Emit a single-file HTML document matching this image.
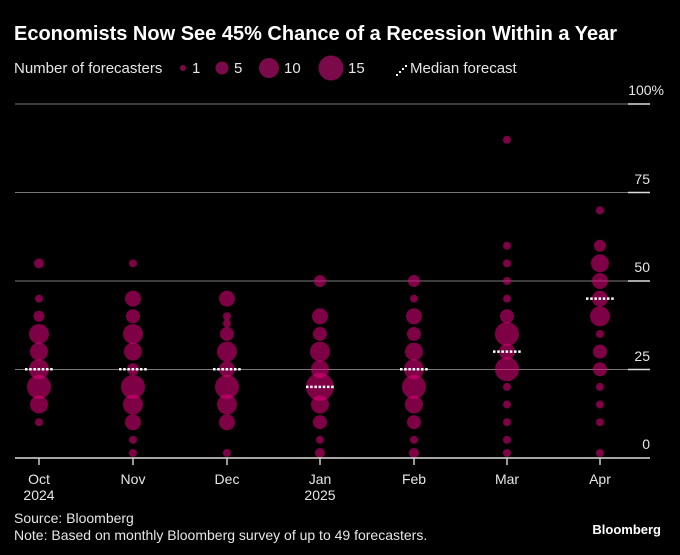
<!DOCTYPE html>
<html><head><meta charset="utf-8"><style>
html,body{margin:0;padding:0;background:#000;}
svg{display:block;font-family:"Liberation Sans",Arial,sans-serif;}
</style></head><body>
<svg width="680" height="555" viewBox="0 0 680 555" xmlns="http://www.w3.org/2000/svg">
<rect width="680" height="555" fill="#000"/>
<text x="14" y="40" fill="#fff" font-size="20" font-weight="bold">Economists Now See 45% Chance of a Recession Within a Year</text>
<g fill="#e6e6e6" font-size="15">
<text x="14" y="73">Number of forecasters</text>
<text x="192" y="73">1</text>
<text x="234" y="73">5</text>
<text x="284" y="73">10</text>
<text x="348" y="73">15</text>
<text x="410" y="73">Median forecast</text>
</g>
<g fill="#7a0a4a">
<circle cx="183" cy="68" r="3"/>
<circle cx="222" cy="68" r="6.5"/>
<circle cx="269" cy="68" r="10"/>
<circle cx="331" cy="68" r="12.5"/>
</g>
<g fill="#fff"><rect x="396" y="74" width="2" height="2"/><rect x="399" y="71" width="2" height="2"/><rect x="402" y="68" width="2" height="2"/><rect x="405" y="65" width="2" height="2"/></g>
<!-- grid -->
<g stroke="#777" stroke-width="1">
<line x1="15" y1="104" x2="650" y2="104"/>
<line x1="15" y1="192.5" x2="650" y2="192.5"/>
<line x1="15" y1="281" x2="650" y2="281"/>
<line x1="15" y1="369.5" x2="650" y2="369.5"/>
</g>
<g stroke="#ddd" stroke-width="1.5">
<line x1="628" y1="104" x2="650" y2="104"/>
<line x1="628" y1="192.5" x2="650" y2="192.5"/>
<line x1="628" y1="281" x2="650" y2="281"/>
<line x1="628" y1="369.5" x2="650" y2="369.5"/>
</g>
<g fill="#e6e6e6" font-size="14" text-anchor="end">
<text x="664" y="95">100%</text>
<text x="650" y="184">75</text>
<text x="650" y="272">50</text>
<text x="650" y="361">25</text>
<text x="650" y="449">0</text>
</g>
<g id="bubbles" fill="rgb(230,0,126)" fill-opacity="0.55"></g>
<g id="medians" stroke="#fff" stroke-width="2.5" stroke-dasharray="2.5 1.7"></g>
<line x1="15" y1="458" x2="650" y2="458" stroke="#ddd" stroke-width="1.5"/>
<g stroke="#ccc" stroke-width="1.5">
<line x1="39" y1="458" x2="39" y2="465"/><line x1="133" y1="458" x2="133" y2="465"/><line x1="227" y1="458" x2="227" y2="465"/><line x1="320" y1="458" x2="320" y2="465"/><line x1="414" y1="458" x2="414" y2="465"/><line x1="507" y1="458" x2="507" y2="465"/><line x1="600" y1="458" x2="600" y2="465"/>
</g>
<g fill="#e6e6e6" font-size="14" text-anchor="middle">
<text x="39" y="484">Oct</text><text x="39" y="500">2024</text>
<text x="133" y="484">Nov</text>
<text x="227" y="484">Dec</text>
<text x="320" y="484">Jan</text><text x="320" y="500">2025</text>
<text x="414" y="484">Feb</text>
<text x="507" y="484">Mar</text>
<text x="600" y="484">Apr</text>
</g>
<g fill="#e6e6e6" font-size="14">
<text x="14" y="523">Source: Bloomberg</text>
<text x="14" y="540">Note: Based on monthly Bloomberg survey of up to 49 forecasters.</text>
</g>
<text x="661" y="534" fill="#fff" font-size="13" font-weight="bold" text-anchor="end">Bloomberg</text>
<script>
var data={39:[[55,5],[45,4],[40,5.5],[35,10],[30,9],[25,10],[20,12],[15,9],[10,4]],
133:[[55,4],[45,8],[40,7],[35,10],[30,9],[25,6],[20,12],[15,10],[10,8],[5,4],[1,4]],
227:[[45,8],[40,4],[38,4],[35,7],[30,10],[25,8],[20,12],[15,10],[10,8],[1,4]],
320:[[50,6],[40,8],[35,7],[30,10],[25,9],[20,14],[15,9],[10,7],[5,4],[1,5]],
414:[[50,6],[45,4],[40,8],[35,7],[30,9],[25,10],[20,12],[15,9],[10,7],[5,4],[1,5]],
507:[[90,4],[60,4],[55,4],[50,4],[45,4],[40,7],[35,12],[30,8],[25,12],[20,4],[15,4],[10,4],[5,4],[1,4]],
600:[[70,4],[60,6],[55,9],[50,8],[45,8],[40,10],[35,4],[30,7],[25,7],[20,4],[15,4],[10,4],[1,4]]};
var med={39:25,133:25,227:25,320:20,414:25,507:30,600:45};
function Y(v){return 457.5-3.53*v;}
var ns="http://www.w3.org/2000/svg",g=document.getElementById("bubbles"),m=document.getElementById("medians");
for(var x in data){data[x].forEach(function(d){var c=document.createElementNS(ns,"circle");c.setAttribute("cx",x);c.setAttribute("cy",Y(d[0])-(d[0]<=1?1:0));c.setAttribute("r",d[1]);g.appendChild(c);});
var l=document.createElementNS(ns,"line");l.setAttribute("x1",x-14);l.setAttribute("x2",+x+14);l.setAttribute("y1",Y(med[x]));l.setAttribute("y2",Y(med[x]));m.appendChild(l);}
</script>
</svg>
</body></html>
